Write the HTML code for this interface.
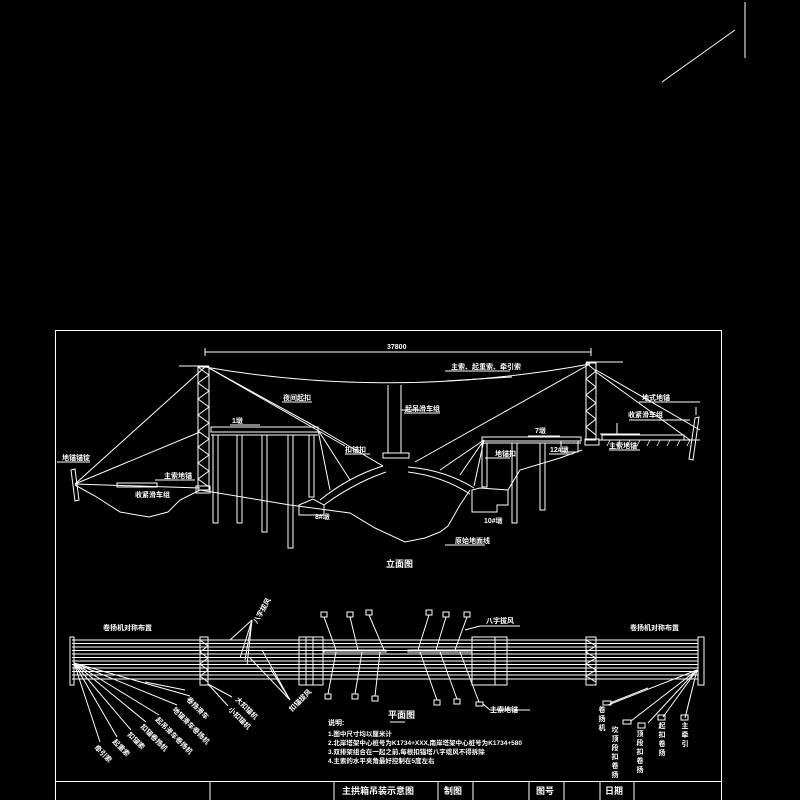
<!DOCTYPE html>
<html><head><meta charset="utf-8"><style>
html,body{margin:0;padding:0;background:#000;}
svg{display:block}
text{font-family:"Liberation Sans","Noto Sans CJK SC",sans-serif;fill:#fff;font-weight:bold}
</style></head><body>
<svg width="800" height="800" viewBox="0 0 800 800" xmlns="http://www.w3.org/2000/svg">
<g stroke="#fff" stroke-width="1" fill="none">
<!-- top right marks -->
<line x1="662" y1="82" x2="735" y2="30"/>
<line x1="745" y1="2" x2="745" y2="58"/>
<!-- border -->
<rect x="55.5" y="330.5" width="666" height="470"/>
<line x1="55" y1="781.5" x2="721" y2="781.5"/>
<line x1="210" y1="781" x2="210" y2="800"/><line x1="334" y1="781" x2="334" y2="800"/>
<line x1="438" y1="781" x2="438" y2="800"/><line x1="473" y1="781" x2="473" y2="800"/>
<line x1="529" y1="781" x2="529" y2="800"/><line x1="564" y1="781" x2="564" y2="800"/>
<line x1="600" y1="781" x2="600" y2="800"/><line x1="634" y1="781" x2="634" y2="800"/>

<!-- ELEVATION -->
<line x1="205" y1="352" x2="591" y2="352"/>
<line x1="205" y1="348" x2="205" y2="356"/><line x1="591" y1="348" x2="591" y2="356"/>
<line x1="179" y1="366" x2="209" y2="366"/><line x1="586" y1="362" x2="623" y2="362"/>
<!-- left tower -->
<rect x="198" y="367" width="11" height="123"/>
<polyline points="198,367 209,375 198,383 209,391 198,399 209,407 198,415 209,423 198,431 209,439 198,447 209,455 198,463 209,471 198,479 209,487"/>
<!-- right tower -->
<rect x="586" y="363" width="10" height="77"/>
<polyline points="586,363 596,371 586,379 596,387 586,395 596,403 586,411 596,419 586,427 596,435"/>
<!-- main cable -->
<path d="M205,367 Q395,400 590,364"/>
<line x1="446" y1="381" x2="512" y2="377"/>
<!-- hangers -->
<line x1="388" y1="385" x2="388" y2="453"/><line x1="401" y1="385" x2="401" y2="453"/>
<rect x="383" y="453" width="26" height="5"/>
<line x1="401" y1="410" x2="420" y2="410"/>
<!-- left deck & piers -->
<rect x="211" y="427" width="107" height="5"/><line x1="211" y1="435" x2="318" y2="435"/>
<line x1="230" y1="425" x2="260" y2="425"/>
<rect x="213" y="435" width="5" height="88"/><rect x="237" y="435" width="5" height="88"/>
<rect x="262" y="435" width="5" height="97"/><rect x="288" y="435" width="5" height="113"/>
<rect x="309" y="435" width="5" height="62"/>
<!-- right deck & piers -->
<rect x="482" y="437" width="99" height="4"/><line x1="482" y1="443" x2="581" y2="443"/>
<line x1="528" y1="436" x2="560" y2="436"/>
<rect x="482" y="443" width="5" height="44"/><rect x="512" y="443" width="5" height="80"/>
<rect x="540" y="443" width="5" height="67"/>
<rect x="561" y="441" width="17" height="11"/>
<rect x="585" y="439" width="14" height="6"/>
<!-- arches -->
<path d="M320,500 Q350,476 383,466"/><path d="M324,505 Q354,483 386,472"/>
<path d="M408,467 Q445,470 474,488"/><path d="M408,472 Q442,476 470,494"/>
<polygon points="299,505 313,499 324,505 324,515 299,515"/>
<polygon points="472,490 480,488 508,490 508,505 497,505 497,512 472,512"/>
<!-- ground -->
<polyline points="75,485 95,496 120,512 149,517 168,512 180,500 200,490 290,505 350,513 375,528 405,542 425,538 440,532 448,526 460,505 470,490"/>
<polyline points="508,490 520,470 560,458 582,450"/>
<line x1="599" y1="440" x2="700" y2="440"/>
<g stroke-width="0.8"><line x1="610" y1="440" x2="607" y2="446"/><line x1="620" y1="440" x2="617" y2="446"/><line x1="630" y1="440" x2="627" y2="446"/><line x1="640" y1="440" x2="637" y2="446"/><line x1="650" y1="440" x2="647" y2="446"/><line x1="660" y1="440" x2="657" y2="446"/><line x1="670" y1="440" x2="667" y2="446"/><line x1="680" y1="440" x2="677" y2="446"/><line x1="690" y1="440" x2="687" y2="446"/></g>
<!-- left anchor -->
<polygon points="71,470 75,469 79,500 75,501"/>
<line x1="57" y1="462" x2="90" y2="462"/>
<line x1="75" y1="484" x2="205" y2="367"/>
<line x1="75" y1="484" x2="200" y2="432"/>
<line x1="75" y1="484" x2="200" y2="488"/>
<rect x="117" y="483" width="40" height="4"/>
<rect x="196" y="486" width="14" height="7"/>
<!-- tower back stays -->
<line x1="209" y1="368" x2="318" y2="428"/>
<line x1="318" y1="428" x2="383" y2="466"/>
<line x1="318" y1="430" x2="350" y2="480"/>
<line x1="318" y1="430" x2="330" y2="490"/>
<line x1="209" y1="368" x2="345" y2="446"/>
<line x1="590" y1="364" x2="415" y2="462"/>
<line x1="484" y1="440" x2="474" y2="486"/>
<line x1="484" y1="440" x2="460" y2="475"/>
<line x1="484" y1="440" x2="440" y2="470"/>
<line x1="596" y1="370" x2="700" y2="430"/>
<line x1="596" y1="372" x2="690" y2="440"/>
<polygon points="695,418 699,417 693,460 689,459"/>
<rect x="602" y="435" width="82" height="5"/>
<line x1="696" y1="407" x2="696" y2="415"/>
<line x1="600" y1="434" x2="640" y2="434"/>
<line x1="617" y1="423" x2="617" y2="434"/>
<!-- label lines -->
<line x1="445" y1="371" x2="510" y2="371"/>
<line x1="282" y1="402" x2="312" y2="402"/>
<line x1="404" y1="413" x2="440" y2="413"/>
<line x1="345" y1="454" x2="370" y2="454"/>
<line x1="155" y1="480" x2="195" y2="480"/>
<line x1="485" y1="458" x2="510" y2="458"/>
<line x1="549" y1="454" x2="573" y2="454"/>
<line x1="445" y1="545" x2="485" y2="545"/>
<line x1="609" y1="450" x2="640" y2="450"/>
<line x1="639" y1="402" x2="700" y2="402"/>
<line x1="629" y1="420" x2="690" y2="420"/>
<line x1="60" y1="462" x2="90" y2="462"/>

<!-- PLAN -->
<g stroke-width="0.9">
<line x1="72" y1="640" x2="698" y2="640"/><line x1="72" y1="643.5" x2="698" y2="643.5"/>
<line x1="72" y1="647" x2="698" y2="647"/><line x1="72" y1="650.5" x2="698" y2="650.5"/>
<line x1="72" y1="654" x2="698" y2="654"/><line x1="72" y1="657.5" x2="698" y2="657.5"/>
<line x1="72" y1="661" x2="698" y2="661"/><line x1="72" y1="664.5" x2="698" y2="664.5"/>
<line x1="72" y1="668" x2="698" y2="668"/><line x1="72" y1="671.5" x2="698" y2="671.5"/>
<line x1="72" y1="675" x2="698" y2="675"/><line x1="72" y1="679" x2="698" y2="679"/>
</g>
<rect x="70" y="637" width="4" height="48"/><rect x="698" y="637" width="6" height="48"/>
<rect x="200" y="637" width="8" height="48"/>
<polyline points="200,640 208,646 200,652 208,658 200,664 208,670 200,676 208,682"/>
<rect x="299" y="637" width="24" height="48"/><line x1="306" y1="637" x2="306" y2="685"/><line x1="313" y1="637" x2="313" y2="685"/>
<rect x="472" y="637" width="35" height="48"/><line x1="495" y1="637" x2="495" y2="685"/>
<rect x="586" y="637" width="10" height="48"/>
<polyline points="586,640 596,646 586,652 596,658 586,664 596,670 586,676 596,682"/>
<rect x="324" y="650" width="62" height="2"/><rect x="408" y="650" width="64" height="2"/>
<!-- boxes top -->
<rect x="321" y="612" width="6" height="5"/><rect x="347" y="612" width="6" height="5"/><rect x="366" y="610" width="6" height="5"/>
<rect x="426" y="610" width="6" height="5"/><rect x="443" y="612" width="6" height="5"/><rect x="464" y="612" width="6" height="5"/>
<line x1="324" y1="617" x2="336" y2="650"/><line x1="350" y1="617" x2="358" y2="650"/><line x1="369" y1="615" x2="384" y2="650"/>
<line x1="429" y1="615" x2="418" y2="650"/><line x1="446" y1="617" x2="436" y2="650"/><line x1="467" y1="617" x2="455" y2="650"/>
<!-- boxes bottom -->
<rect x="325" y="694" width="6" height="5"/><rect x="352" y="694" width="6" height="5"/><rect x="372" y="696" width="6" height="5"/>
<rect x="434" y="700" width="6" height="5"/><rect x="454" y="699" width="6" height="5"/><rect x="476" y="702" width="7" height="4"/>
<line x1="328" y1="694" x2="336" y2="652"/><line x1="355" y1="694" x2="362" y2="652"/><line x1="375" y1="696" x2="380" y2="652"/>
<line x1="437" y1="700" x2="420" y2="652"/><line x1="457" y1="699" x2="440" y2="652"/><line x1="479" y1="702" x2="460" y2="652"/>
<line x1="483" y1="704" x2="490" y2="710"/><line x1="490" y1="710" x2="530" y2="710"/>
<line x1="465" y1="630" x2="480" y2="626"/><line x1="480" y1="626" x2="520" y2="626"/>
<!-- stays fan top left -->
<line x1="252" y1="620" x2="230" y2="640"/><line x1="252" y1="620" x2="240" y2="658"/><line x1="252" y1="620" x2="247" y2="665"/><line x1="252" y1="620" x2="245" y2="660"/>
<line x1="290" y1="700" x2="262" y2="650"/><line x1="290" y1="700" x2="250" y2="658"/><line x1="290" y1="700" x2="270" y2="668"/>
<!-- fans bottom left -->
<line x1="74" y1="663" x2="100" y2="742"/><line x1="74" y1="663" x2="117" y2="737"/><line x1="74" y1="663" x2="131" y2="730"/>
<line x1="74" y1="663" x2="146" y2="722"/><line x1="74" y1="663" x2="159" y2="715"/><line x1="74" y1="663" x2="177" y2="705"/>
<line x1="74" y1="663" x2="190" y2="696"/>
<line x1="145" y1="682" x2="185" y2="690"/>
<line x1="208" y1="684" x2="232" y2="697"/><line x1="208" y1="684" x2="228" y2="706"/>
<!-- fans right -->
<line x1="697" y1="670" x2="608" y2="705"/><line x1="697" y1="670" x2="631" y2="721"/><line x1="697" y1="670" x2="648" y2="723"/>
<line x1="697" y1="670" x2="663" y2="717"/><line x1="697" y1="670" x2="685" y2="718"/>
<line x1="610" y1="703" x2="648" y2="688"/>
<rect x="603" y="701" width="8" height="4"/><rect x="623" y="720" width="8" height="4"/><rect x="638" y="723" width="7" height="5"/>
<rect x="658" y="715" width="7" height="5"/><rect x="681" y="715" width="7" height="5"/>
<line x1="390" y1="722" x2="405" y2="722"/>
</g>

<g font-size="7">
<text x="387" y="349">37800</text>
<text x="451" y="369">主索、起重索、牵引索</text>
<text x="283" y="400">夜间起扣</text>
<text x="405" y="411">起吊滑车组</text>
<text x="232" y="423">1墩</text>
<text x="345" y="452">扣锚扣</text>
<text x="535" y="433">7墩</text>
<text x="62" y="460">地锚锚锭</text>
<text x="164" y="478">主索地锚</text>
<text x="135" y="497">收紧滑车组</text>
<text x="495" y="456">地锚扣</text>
<text x="550" y="452">12#墩</text>
<text x="609" y="448">主索地锚</text>
<text x="628" y="417">收紧滑车组</text>
<text x="642" y="400">地式地锚</text>
<text x="315" y="519">8#墩</text>
<text x="484" y="523">10#墩</text>
<text x="455" y="543">原始地面线</text>
<text x="103" y="630">卷扬机对称布置</text>
<text x="630" y="630">卷扬机对称布置</text>
<text x="486" y="623">八字拔风</text>
<text x="490" y="712">主索地锚</text>
<text x="328" y="725">说明:</text>
<text x="328" y="736" font-size="6.5">1.图中尺寸均以厘米计</text>
<text x="328" y="745" font-size="6.5">2.北岸塔架中心桩号为K1734+XXX,南岸塔架中心桩号为K1734+580</text>
<text x="328" y="754" font-size="6.5">3.双排架组合在一起之前,每根扣锚塔八字缆风不得拆除</text>
<text x="328" y="763" font-size="6.5">4.主索的水平夹角最好控制在5度左右</text>
<text x="257" y="624" transform="rotate(-60 257 624)">八字拔风</text>
<text x="292" y="712" transform="rotate(-45 292 712)">扣锚拔风</text>
<text x="94" y="748" transform="rotate(45 94 748)">牵引索</text>
<text x="112" y="742" transform="rotate(45 112 742)">起重索</text>
<text x="127" y="735" transform="rotate(45 127 735)">扣锚索</text>
<text x="140" y="727" transform="rotate(45 140 727)">扣锚卷扬机</text>
<text x="155" y="720" transform="rotate(45 155 720)">起吊滑车卷扬机</text>
<text x="172" y="710" transform="rotate(45 172 710)">地锚滑车卷扬机</text>
<text x="186" y="700" transform="rotate(45 186 700)">卷扬滑车</text>
<text x="228" y="710" transform="rotate(45 228 710)">小扣锚机</text>
<text x="235" y="700" transform="rotate(45 235 700)">大扣锚机</text>
</g>
<g font-size="7" text-anchor="middle">
<text x="602" y="712">卷</text><text x="602" y="721">扬</text><text x="602" y="730">机</text>
<text x="615" y="732">坎</text><text x="615" y="741">顶</text><text x="615" y="750">段</text><text x="615" y="759">扣</text><text x="615" y="768">卷</text><text x="615" y="777">扬</text>
<text x="640" y="736">顶</text><text x="640" y="745">段</text><text x="640" y="754">扣</text><text x="640" y="763">卷</text><text x="640" y="772">扬</text>
<text x="662" y="728">起</text><text x="662" y="737">扣</text><text x="662" y="746">卷</text><text x="662" y="755">扬</text>
<text x="685" y="728">主</text><text x="685" y="737">牵</text><text x="685" y="746">引</text>
</g>
<g font-size="9">
<text x="386" y="567">立面图</text>
<text x="388" y="718">平面图</text>
<text x="342" y="794">主拱箱吊装示意图</text>
<text x="444" y="794">制图</text>
<text x="536" y="794">图号</text>
<text x="605" y="794">日期</text>
</g>
</svg>
</body></html>
